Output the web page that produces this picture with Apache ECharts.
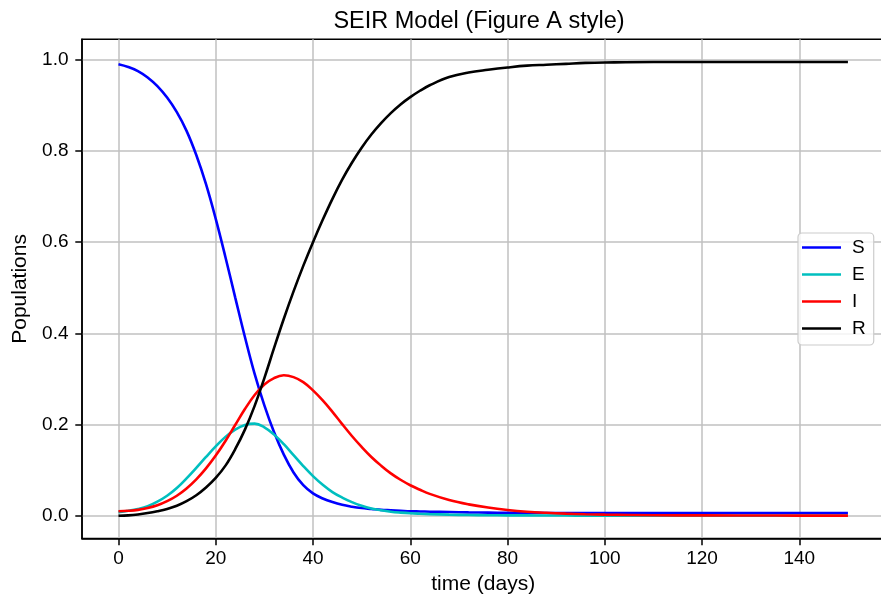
<!DOCTYPE html>
<html>
<head>
<meta charset="utf-8">
<script src="https://cdn.jsdelivr.net/npm/echarts@6/dist/echarts.min.js"></script>
<style>
  html, body { margin: 0; padding: 0; background: #fff; }
  #chart { width: 881px; height: 596px; }
</style>
</head>
<body>
<div id="chart"></div>
<script>
// time points (days) and population fractions
const tDays = [0, 2, 4, 6, 8, 10, 12, 14, 16, 18, 20, 22, 24, 26, 28, 30, 32, 34, 36, 38, 40, 42, 44, 46, 48, 50, 52, 54, 56, 58, 60, 62, 64,
  68, 72, 76, 80, 84, 88, 92, 96, 100, 110, 120, 135, 150]
const sVals = [0.990, 0.984, 0.975, 0.961, 0.942, 0.917, 0.885, 0.844, 0.791, 0.727, 0.651, 0.567, 0.479, 0.392, 0.311, 0.242, 0.183, 0.134, 0.095, 0.067, 0.049, 0.038, 0.030, 0.024, 0.020, 0.017, 0.015, 0.013, 0.012, 0.011, 0.010, 0.0095, 0.009,
  0.0082, 0.0075, 0.007, 0.0066, 0.0064, 0.0062, 0.0061, 0.006, 0.006, 0.006, 0.006, 0.006, 0.006]
const eVals = [0.008, 0.011, 0.015, 0.021, 0.031, 0.044, 0.061, 0.082, 0.105, 0.129, 0.152, 0.173, 0.189, 0.199, 0.202, 0.194, 0.178, 0.157, 0.133, 0.109, 0.087, 0.068, 0.052, 0.040, 0.030, 0.022, 0.016, 0.012, 0.009, 0.007, 0.0055, 0.0045, 0.0037,
  0.0025, 0.0018, 0.0013, 0.001, 0.0008, 0.0006, 0.0005, 0.0004, 0.0003, 0.0002, 0.0001, 0, 0]
const iVals = [0.010, 0.011, 0.013, 0.017, 0.023, 0.032, 0.044, 0.060, 0.080, 0.104, 0.132, 0.164, 0.199, 0.234, 0.265, 0.288, 0.302, 0.308, 0.304, 0.293, 0.275, 0.253, 0.228, 0.201, 0.175, 0.151, 0.129, 0.110, 0.093, 0.079, 0.067, 0.057, 0.048,
  0.0345, 0.025, 0.018, 0.0128, 0.009, 0.0065, 0.0047, 0.0034, 0.0025, 0.0012, 0.0008, 0.0005, 0.0004]
const rVals = [0, 0.001, 0.003, 0.006, 0.010, 0.015, 0.022, 0.032, 0.045, 0.062, 0.083, 0.110, 0.146, 0.189, 0.241, 0.302, 0.368, 0.432, 0.492, 0.548, 0.600, 0.649, 0.695, 0.737, 0.774, 0.807, 0.836, 0.861, 0.883, 0.902, 0.918, 0.932, 0.944,
  0.962, 0.972, 0.978, 0.983, 0.987, 0.989, 0.991, 0.993, 0.994, 0.995, 0.995, 0.995, 0.995]

const xTicks = [0, 20, 40, 60, 80, 100, 120, 140]
const yTicks = [0, 0.2, 0.4, 0.6, 0.8, 1.0]

const names = ['S', 'E', 'I', 'R']
const colors = ['#0000ff', '#00bfbf', '#ff0000', '#000000']
const values = [sVals, eVals, iVals, rVals]

const font = 'Liberation Sans, Arial, sans-serif'

const chart = echarts.init(document.getElementById('chart'), null, { renderer: 'canvas' })

chart.setOption({
  animation: false,
  backgroundColor: '#ffffff',
  title: {
    text: 'SEIR Model (Figure A style)',
    left: 474,
    top: 5,
    textAlign: 'center',
    textStyle: { fontFamily: font, fontSize: 23.5, fontWeight: 'normal', color: '#000' },
  },
  legend: {
    data: names,
    orient: 'vertical',
    left: 798,
    top: 233,
    padding: [5, 8, 7, 4],
    itemGap: 8,
    itemWidth: 39,
    itemHeight: 2.6,
    icon: 'rect',
    backgroundColor: 'rgba(255,255,255,0.8)',
    borderColor: '#cccccc',
    borderWidth: 1.2,
    borderRadius: 4,
    textStyle: { fontFamily: font, fontSize: 19, color: '#000', lineHeight: 19, padding: [0, 0, 0, 6] },
  },
  grid: {
    left: 82,
    right: -3.4,
    top: 39.3,
    bottom: 57.5,
    show: true,
    borderColor: '#000',
    borderWidth: 1.5,
    outerBoundsMode: 'none',
  },
  xAxis: {
    type: 'value',
    min: -7.5,
    max: 157.5,
    name: 'time (days)',
    nameLocation: 'middle',
    nameGap: 30,
    nameTextStyle: { fontFamily: font, fontSize: 21, color: '#000' },
    axisLine: { show: true, onZero: false, lineStyle: { color: '#000', width: 1.5 } },
    axisTick: { show: true, customValues: xTicks, length: 6.7, lineStyle: { color: '#000', width: 1.5 } },
    axisLabel: { customValues: xTicks, margin: 11, fontFamily: font, fontSize: 19, color: '#000' },
    splitLine: { show: true, lineStyle: { color: '#c0c0c0', width: 1.5 } },
  },
  yAxis: {
    type: 'value',
    min: -0.0498,
    max: 1.0448,
    name: 'Populations',
    nameLocation: 'middle',
    nameGap: 46,
    nameTextStyle: { fontFamily: font, fontSize: 21, color: '#000' },
    axisLine: { show: true, onZero: false, lineStyle: { color: '#000', width: 1.5 } },
    axisTick: { show: true, customValues: yTicks, length: 6.7, lineStyle: { color: '#000', width: 1.5 } },
    axisLabel: {
      customValues: yTicks,
      margin: 13.5,
      fontFamily: font,
      fontSize: 19,
      color: '#000',
      formatter: (v) => v.toFixed(1),
    },
    splitLine: { show: true, lineStyle: { color: '#c0c0c0', width: 1.5 } },
  },
  series: names.map((n, k) => ({
    name: n,
    type: 'line',
    data: tDays.map((t, j) => [t, values[k][j]]),
    showSymbol: false,
    smooth: 0.4,
    color: colors[k],
    lineStyle: { color: colors[k], width: 2.6 },
    z: 3 + k,
  })),
})
</script>
</body>
</html>
